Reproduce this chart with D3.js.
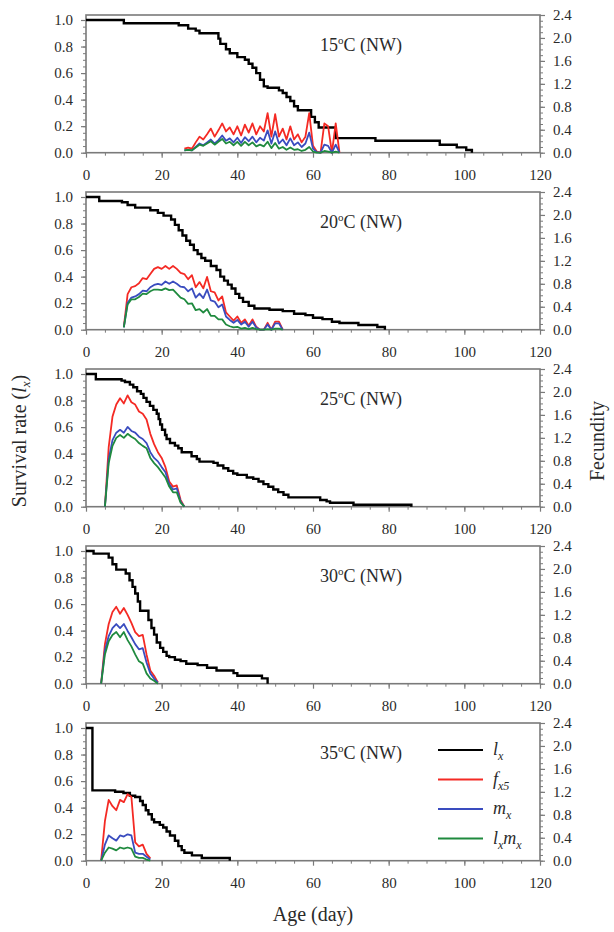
<!DOCTYPE html>
<html>
<head>
<meta charset="utf-8">
<script src="https://cdn.jsdelivr.net/npm/d3@7/dist/d3.min.js"></script>
<style>
  body { margin: 0; background: #fff; }
  text { font-family: "Liberation Serif", "Times New Roman", serif; }
</style>
</head>
<body>
<svg id="chart" width="614" height="932"></svg>
<script>
// temperatures (one panel each)
const temps = ["15", "20", "25", "30", "35"];

// survival lx: [age, value] at each step
const lx15 = [[0,1],[10,0.975],[24.5,0.96],[27,0.935],[29,0.92],[30,0.9],[35,0.86],[35.5,0.82],[37,0.78],[38,0.75],[40,0.72],[42,0.7],[43,0.67],[44,0.64],[45,0.6],[46,0.55],[47,0.5],[48,0.49],[51,0.47],[52,0.45],[53,0.42],[54,0.39],[55,0.35],[56,0.32],[59.5,0.27],[60.5,0.23],[61.5,0.19],[66,0.11],[76.5,0.09],[93.5,0.06],[98,0.04],[100.5,0.02],[102,0]];
const lx20 = [[0,1],[3.5,0.97],[9.5,0.96],[11,0.94],[13,0.92],[17,0.9],[19,0.88],[20.5,0.86],[22.5,0.83],[23.5,0.79],[24.5,0.75],[25.5,0.71],[26.5,0.67],[27.5,0.64],[28.5,0.6],[29.5,0.57],[30.5,0.54],[31.5,0.52],[33,0.48],[34.5,0.45],[35.5,0.4],[36.5,0.37],[37.5,0.34],[38.5,0.31],[39.5,0.27],[40.5,0.24],[41.5,0.21],[43,0.18],[44.5,0.16],[48.5,0.15],[52,0.14],[55,0.12],[58,0.11],[60,0.09],[62.5,0.08],[65,0.06],[67,0.05],[72,0.035],[77,0.02],[79,0]];
const lx25 = [[0,1],[2.6,0.96],[9.4,0.95],[10.3,0.94],[11.6,0.92],[12.5,0.9],[13.5,0.87],[14.5,0.85],[15.2,0.82],[16,0.79],[16.9,0.76],[17.8,0.73],[18.7,0.7],[19.2,0.66],[19.6,0.62],[20.1,0.58],[20.9,0.54],[21.3,0.51],[22.2,0.48],[23.5,0.46],[24.4,0.44],[25.3,0.41],[27.9,0.38],[29.3,0.36],[30,0.34],[33.7,0.33],[34.8,0.31],[36.3,0.29],[37.6,0.27],[38.9,0.25],[40,0.24],[42.5,0.22],[44.2,0.21],[45.6,0.19],[46.9,0.17],[48.2,0.15],[49.5,0.13],[50.8,0.11],[52.2,0.09],[53.5,0.07],[61.9,0.05],[63.6,0.04],[64.5,0.03],[70.7,0.015],[86,0]];
const lx30 = [[0,1],[2,0.98],[6,0.95],[7,0.9],[8,0.86],[10.5,0.83],[11.5,0.78],[12.3,0.73],[13,0.68],[13.7,0.62],[14.3,0.55],[16.5,0.48],[17.3,0.42],[18,0.37],[18.7,0.31],[19.6,0.27],[20.4,0.24],[21.3,0.21],[22,0.2],[23.5,0.18],[25,0.17],[26.5,0.15],[29.5,0.14],[32,0.12],[34.5,0.1],[39,0.08],[40,0.06],[46.5,0.04],[48,0]];
const lx35 = [[0,1],[1.7,0.53],[7.7,0.52],[9.9,0.51],[11.6,0.49],[13,0.48],[14.3,0.45],[15,0.42],[15.8,0.38],[16.5,0.35],[17.4,0.31],[18,0.29],[19.5,0.27],[20.4,0.25],[21.3,0.22],[22.2,0.19],[23.5,0.15],[24.4,0.11],[25.3,0.08],[26,0.06],[28,0.04],[30.6,0.02],[38,0]];

// first day of reproduction
const start15 = 26, start20 = 10, start25 = 5, start30 = 4, start35 = 4;

// daily fecundity values (right axis)
const fx15 = [0.07,0.09,0.07,0.18,0.28,0.23,0.32,0.42,0.28,0.39,0.51,0.37,0.44,0.32,0.46,0.30,0.49,0.35,0.51,0.32,0.46,0.37,0.69,0.28,0.67,0.28,0.42,0.23,0.46,0.23,0.32,0.18,0.28,0.69,0.12,0.02,0,0.51,0.46,0,0.51,0];
const mx15 = [0.04,0.05,0.04,0.10,0.16,0.13,0.18,0.23,0.16,0.22,0.30,0.21,0.25,0.18,0.26,0.17,0.27,0.20,0.28,0.18,0.26,0.21,0.39,0.16,0.37,0.16,0.23,0.13,0.25,0.13,0.18,0.10,0.16,0.35,0.07,0.01,0,0.14,0.12,0,0.14,0];
const lxmx15 = [0.04,0.05,0.04,0.09,0.14,0.12,0.16,0.20,0.14,0.19,0.24,0.16,0.19,0.13,0.19,0.12,0.19,0.13,0.18,0.11,0.14,0.11,0.19,0.08,0.17,0.07,0.10,0.05,0.09,0.05,0.06,0.03,0.05,0.10,0.02,0,0,0.03,0.02,0,0.02,0];

const fx20 = [0.05,0.62,0.74,0.76,0.81,0.90,0.88,0.97,1.06,1.09,1.06,1.11,1.06,1.11,1.06,0.99,0.97,0.88,0.95,0.74,0.83,0.72,0.92,0.67,0.65,0.51,0.58,0.30,0.23,0.16,0.23,0.12,0.18,0.07,0.18,0.05,0,0,0.12,0,0.14,0.14,0];
const mx20 = [0.04,0.47,0.56,0.58,0.62,0.68,0.67,0.74,0.78,0.80,0.78,0.84,0.80,0.84,0.80,0.75,0.74,0.67,0.72,0.56,0.63,0.55,0.70,0.51,0.49,0.39,0.44,0.23,0.17,0.12,0.17,0.09,0.14,0.05,0.14,0.04,0,0,0.09,0,0.11,0.11,0];
const lxmx20 = [0.04,0.44,0.53,0.53,0.57,0.63,0.62,0.67,0.70,0.70,0.69,0.72,0.69,0.70,0.63,0.56,0.53,0.45,0.46,0.34,0.36,0.30,0.36,0.24,0.24,0.18,0.18,0.09,0.06,0.04,0.05,0.02,0.03,0.01,0.03,0.01,0,0,0.01,0,0.02,0.02,0];

const fx25 = [0,1.04,1.57,1.78,1.89,1.80,1.94,1.82,1.78,1.66,1.62,1.52,1.27,1.09,0.95,0.85,0.69,0.44,0.35,0.37,0.12,0];
const mx25 = [0,0.83,1.16,1.29,1.34,1.29,1.39,1.32,1.29,1.22,1.18,1.11,0.95,0.85,0.79,0.69,0.60,0.39,0.30,0.32,0.09,0];
const lxmx25 = [0,0.76,1.06,1.20,1.25,1.20,1.27,1.22,1.18,1.11,1.06,1.02,0.85,0.76,0.69,0.60,0.51,0.35,0.25,0.25,0.07,0];

const fx30 = [0,0.69,1.04,1.25,1.34,1.22,1.32,1.20,1.06,0.90,0.83,0.85,0.51,0.23,0.14,0.02];
const mx30 = [0,0.58,0.83,0.97,1.04,0.97,1.04,0.92,0.81,0.69,0.60,0.62,0.37,0.18,0.09,0.02];
const lxmx30 = [0,0.51,0.74,0.85,0.90,0.81,0.90,0.76,0.65,0.51,0.39,0.35,0.18,0.09,0.05,0];

const fx35 = [0,0.69,1.06,0.95,0.88,1.06,1.02,1.16,1.11,0.32,0.25,0.28,0.12,0.04];
const mx35 = [0,0.28,0.44,0.39,0.35,0.44,0.42,0.46,0.44,0.14,0.12,0.12,0.07,0.02];
const lxmx35 = [0,0.14,0.23,0.21,0.18,0.23,0.21,0.23,0.21,0.07,0.05,0.05,0.02,0];

const leftTicks = [0, 0.2, 0.4, 0.6, 0.8, 1.0];
const rightTicks = [0, 0.4, 0.8, 1.2, 1.6, 2.0, 2.4];
const xTicks = [0, 20, 40, 60, 80, 100, 120];

const panels = [
  { t: temps[0], lx: lx15, start: start15, fx: fx15, mx: mx15, lxmx: lxmx15 },
  { t: temps[1], lx: lx20, start: start20, fx: fx20, mx: mx20, lxmx: lxmx20 },
  { t: temps[2], lx: lx25, start: start25, fx: fx25, mx: mx25, lxmx: lxmx25 },
  { t: temps[3], lx: lx30, start: start30, fx: fx30, mx: mx30, lxmx: lxmx30 },
  { t: temps[4], lx: lx35, start: start35, fx: fx35, mx: mx35, lxmx: lxmx35 }
];

const colors = { lx: "#000000", fx: "#f42a24", mx: "#3a4cbf", lxmx: "#1f8a3e" };
const frameColor = "#7a7a7a";
const labelColor = "#2a2a2a";
const serif = '"Liberation Serif", "Times New Roman", serif';

const svg = d3.select("#chart");
const left = 86, right = 540, ph = 137.7, gap = 177;

const x = d3.scaleLinear().domain([0, 120]).range([left, right]);

panels.forEach((p, i) => {
  const bottom = 152.7 + i * gap;
  const top = bottom - ph;
  const yL = d3.scaleLinear().domain([0, 1]).range([bottom, top + 5]);
  const yR = d3.scaleLinear().domain([0, 2.4]).range([bottom, top]);
  const g = svg.append("g");

  // minor ticks
  const minorStyle = sel => {
    sel.select(".domain").remove();
    sel.selectAll("line").attr("stroke", frameColor).attr("stroke-width", 1);
    sel.selectAll("text").remove();
  };
  g.append("g").attr("transform", `translate(${left},0)`)
    .call(d3.axisLeft(yL).tickValues(d3.range(0, 1.0001, 0.05)).tickSize(3)).call(minorStyle);
  g.append("g").attr("transform", `translate(${right},0)`)
    .call(d3.axisRight(yR).tickValues(d3.range(0, 2.4001, 0.1)).tickSize(3)).call(minorStyle);
  g.append("g").attr("transform", `translate(0,${bottom})`)
    .call(d3.axisBottom(x).tickValues(d3.range(0, 121, 5)).tickSize(3)).call(minorStyle);

  // major ticks + labels
  const majorStyle = sel => {
    sel.attr("font-family", serif).attr("font-size", 15);
    sel.select(".domain").remove();
    sel.selectAll("line").attr("stroke", frameColor).attr("stroke-width", 1.2);
    sel.selectAll("text").attr("fill", labelColor);
  };
  g.append("g").attr("transform", `translate(${left},0)`)
    .call(d3.axisLeft(yL).tickValues(leftTicks).tickFormat(d3.format(".1f")).tickSize(5).tickPadding(8))
    .call(majorStyle);
  g.append("g").attr("transform", `translate(${right},0)`)
    .call(d3.axisRight(yR).tickValues(rightTicks).tickFormat(d3.format(".1f")).tickSize(5).tickPadding(8))
    .call(majorStyle);
  g.append("g").attr("transform", `translate(0,${bottom})`)
    .call(d3.axisBottom(x).tickValues(xTicks).tickFormat(d3.format("d")).tickSize(5).tickPadding(12))
    .call(majorStyle);

  // frame
  g.append("rect")
    .attr("x", left).attr("y", top).attr("width", right - left).attr("height", bottom - top)
    .attr("fill", "none").attr("stroke", frameColor).attr("stroke-width", 1.6);

  // lines
  const lxLine = d3.line().x(d => x(d[0])).y(d => yL(d[1])).curve(d3.curveStepAfter);
  g.append("path").datum(p.lx)
    .attr("d", lxLine).attr("fill", "none").attr("stroke", colors.lx).attr("stroke-width", 2.4);

  const fLine = d3.line().x((d, j) => x(p.start + j)).y(d => yR(d));
  [["fx", p.fx], ["mx", p.mx], ["lxmx", p.lxmx]].forEach(([k, vals]) => {
    g.append("path").datum(vals)
      .attr("d", fLine).attr("fill", "none").attr("stroke", colors[k])
      .attr("stroke-width", 1.8).attr("stroke-linejoin", "round");
  });

  // panel title
  const title = g.append("text").attr("x", 320).attr("y", top + 36)
    .attr("fill", labelColor).style("font-size", "18px");
  title.append("tspan").text(p.t);
  title.append("tspan").text("o").style("font-size", "11px").attr("dy", -7);
  title.append("tspan").text("C (NW)").attr("dy", 7);

  // legend in the last panel
  if (i === 4) {
    const items = [["lx", "l", "x", null], ["fx", "f", "x5", null], ["mx", "m", "x", null], ["lxmx", "l", "x", "m"]];
    const lg = g.append("g");
    items.forEach((it, k) => {
      const ly = top + 27 + k * 29.5;
      lg.append("line").attr("x1", 438).attr("x2", 483).attr("y1", ly).attr("y2", ly)
        .attr("stroke", colors[it[0]]).attr("stroke-width", 2.2);
      const t = lg.append("text").attr("x", 493).attr("y", ly + 5)
        .attr("fill", labelColor).style("font-size", "18px").style("font-style", "italic");
      t.append("tspan").text(it[1]);
      t.append("tspan").text(it[2]).style("font-size", "12px").attr("dy", 5);
      if (it[3]) {
        t.append("tspan").text(it[3]).attr("dy", -5).style("font-size", "18px");
        t.append("tspan").text("x").style("font-size", "12px").attr("dy", 5);
      }
    });
  }
});

// axis titles
const yt = svg.append("text")
  .attr("transform", "translate(26,441) rotate(-90)")
  .attr("text-anchor", "middle").attr("fill", labelColor).style("font-size", "20px");
yt.append("tspan").text("Survival rate (");
yt.append("tspan").text("l").style("font-style", "italic");
yt.append("tspan").text("x").style("font-style", "italic").style("font-size", "13px").attr("dy", 4);
yt.append("tspan").text(")").attr("dy", -4);

svg.append("text")
  .attr("transform", "translate(604,441) rotate(-90)")
  .attr("text-anchor", "middle").attr("fill", labelColor).style("font-size", "20px")
  .text("Fecundity");

svg.append("text")
  .attr("x", 313).attr("y", 921)
  .attr("text-anchor", "middle").attr("fill", labelColor).style("font-size", "20px")
  .text("Age (day)");
</script>
</body>
</html>
